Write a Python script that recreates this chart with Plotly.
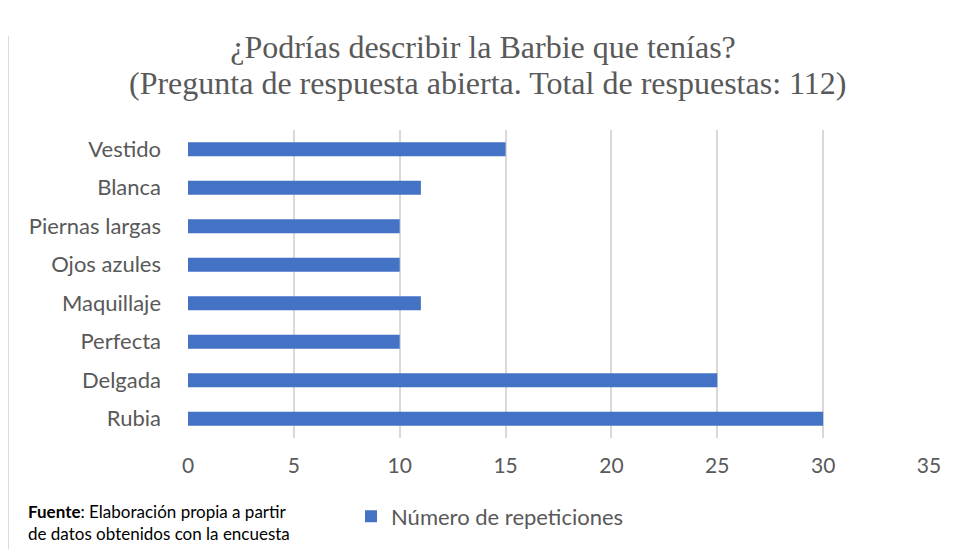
import plotly.graph_objects as go

categories = ["Vestido", "Blanca", "Piernas largas", "Ojos azules", "Maquillaje", "Perfecta", "Delgada", "Rubia"]
values = [15, 11, 10, 10, 11, 10, 25, 30]
tick_vals = [0, 5, 10, 15, 20, 25, 30, 35]
series_name = "Número de repeticiones"
title_line1 = "¿Podrías describir la Barbie que tenías?"
title_line2 = "(Pregunta de respuesta abierta. Total de respuestas: 112)"

fig = go.Figure()
fig.add_trace(go.Bar(
    y=categories, x=values, orientation="h", name=series_name,
    marker=dict(color="#4472C4", line=dict(width=0)),
    showlegend=True,
))

title_font = dict(family="Liberation Serif", size=32, color="#595959")

fig.update_layout(
    width=950, height=542,
    margin=dict(l=180, r=29, t=122, b=110),
    paper_bgcolor="white", plot_bgcolor="white",
    bargap=0.64,
    title=dict(
        text=title_line1,
        x=0.5, xanchor="center", y=0.928, yanchor="middle",
        font=title_font,
    ),
    xaxis=dict(
        range=[0, 35], tickvals=tick_vals, showgrid=True, gridcolor="#D9D9D9", gridwidth=2,
        zeroline=False, showline=False,
        tickfont=dict(family="Lato", size=21, color="#595959"), ticks="", ticklabelstandoff=13,
    ),
    yaxis=dict(
        categoryorder="array", categoryarray=categories[::-1],
        showgrid=False, showline=False, ticks="",
        tickfont=dict(family="Lato", size=22, color="#595959"), ticklabelstandoff=26,
    ),
    legend=dict(
        orientation="h", x=0.22, xanchor="left", y=-0.255, yanchor="middle",
        font=dict(family="Lato", size=22, color="#595959"),
        bgcolor="rgba(0,0,0,0)",
    ),
    annotations=[
        dict(
            text=title_line2,
            xref="paper", yref="paper", x=0.405, y=1.1516, xanchor="center", yanchor="middle",
            showarrow=False, font=title_font,
        ),
        dict(
            text="<b>Fuente</b>: Elaboración propia a partir<br>de datos obtenidos con la encuesta",
            xref="paper", yref="paper", x=-0.219, y=-0.274, xanchor="left", yanchor="middle",
            align="left", showarrow=False,
            font=dict(family="Lato", size=17, color="#000000"),
        ),
    ],
    shapes=[dict(type="line", xref="paper", yref="paper", x0=-0.243, x1=-0.243, y0=-0.36, y1=1.306,
                 line=dict(color="#D9D9D9", width=2))],
)

fig.write_html("out.html")
